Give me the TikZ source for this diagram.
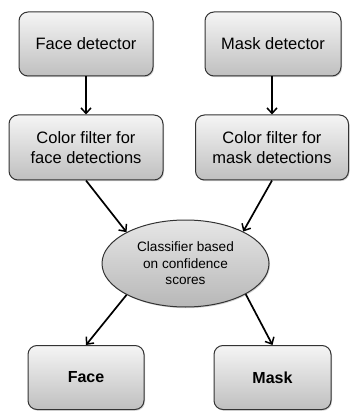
\documentclass[tikz,border=0pt]{standalone}
\usepackage{fontspec}
\setmainfont{Liberation Sans}
\usetikzlibrary{arrows.meta,shapes.geometric,shadows}
\tikzset{
  boxst/.style={draw=black!80, line width=1pt, rounded corners=9pt,
    top color=black!4, bottom color=black!25, align=center,
    inner sep=0pt, drop shadow={opacity=0.35, shadow xshift=1pt, shadow yshift=-1.2pt}},
  ellst/.style={ellipse, draw=black!80, line width=1pt,
    top color=black!10, bottom color=black!28, align=center, inner sep=0pt,
    drop shadow={opacity=0.35, shadow xshift=1pt, shadow yshift=-1.2pt}},
  arr/.style={-{Straight Barb[length=5.5pt,width=10pt,line width=1.5pt]}, line width=1.7pt, black},
  bigtxt/.style={font=\fontsize{16.5}{20}\selectfont},
  smalltxt/.style={font=\fontsize{13.6}{16.5}\selectfont},
  boldtxt/.style={font=\fontsize{16}{19}\selectfont\bfseries},
}
\begin{document}
\begin{tikzpicture}[x=1pt,y=-1pt]
\useasboundingbox (0,0) rectangle (350,411);
\node[boxst,bigtxt,minimum width=134pt,minimum height=64pt] (fd) at (86,44) {Face detector};
\node[boxst,bigtxt,minimum width=136pt,minimum height=64pt] (md) at (273,44) {Mask detector};
\node[boxst,bigtxt,minimum width=154pt,minimum height=65pt] (cf) at (86,147.5) {Color filter for\\face detections};
\node[boxst,bigtxt,minimum width=153pt,minimum height=65pt] (cm) at (272,147.5) {Color filter for\\mask detections};
\node[ellst,smalltxt,minimum width=167pt,minimum height=87pt] (cl) at (185.5,263.5) {Classifier based\\on confidence\\scores};
\node[boxst,boldtxt,minimum width=116pt,minimum height=64pt] (fa) at (86,377.5) {Face};
\node[boxst,boldtxt,minimum width=117pt,minimum height=64pt] (ma) at (272.5,377.5) {Mask};
\draw[arr] (fd) -- (cf);
\draw[arr] (md.south -| cm.north) -- (cm.north);
\draw[arr] (cf.south) -- (cl.152);
\draw[arr] (cm.south) -- (cl.29);
\draw[arr] (cl.208) -- (fa.north);
\draw[arr] (cl.333) -- (ma.north);
\end{tikzpicture}
\end{document}
